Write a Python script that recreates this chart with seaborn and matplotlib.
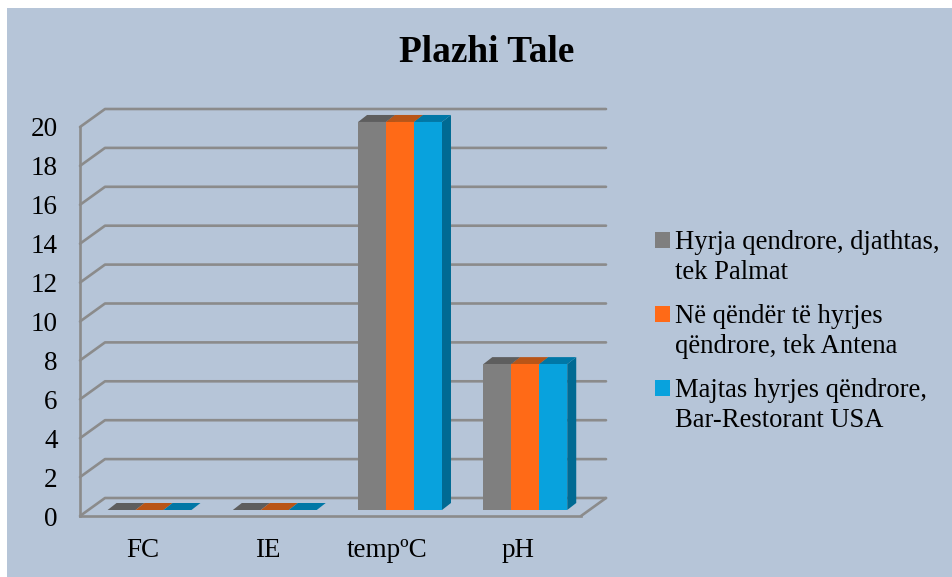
import pandas as pd
import matplotlib
matplotlib.use('Agg')
import matplotlib.pyplot as plt
import seaborn as sns
from matplotlib.patches import Polygon, Rectangle
from matplotlib.transforms import ScaledTranslation

# Data
categories = ['FC', 'IE', 'tempºC', 'pH']
series_names = ['Hyrja qendrore, djathtas,\ntek Palmat',
                'Në qëndër të hyrjes\nqëndrore, tek Antena',
                'Majtas hyrjes qëndrore,\nBar-Restorant USA']
entrance_right = [0, 0, 19.95, 7.5]
entrance_centre = [0, 0, 19.95, 7.5]
entrance_left = [0, 0, 19.95, 7.5]
y_ticks = [0, 2, 4, 6, 8, 10, 12, 14, 16, 18, 20]

front_colors = ['#7f7f7f', '#ff6a17', '#08a2dd']
top_colors = ['#5e5e5e', '#b95517', '#0077a6']
side_colors = ['#5e5e5e', '#b95517', '#006a93']
panel_color = '#b6c5d8'
grid_color = '#8b8b8b'

W, H = 953, 577
sns.set_theme(style='white')
plt.rcParams['font.family'] = ['Liberation Serif', 'DejaVu Serif']

df = pd.DataFrame({
    'category': categories * 3,
    'series': [s for s in series_names for _ in categories],
    'value': entrance_right + entrance_centre + entrance_left,
})

fig = plt.figure(figsize=(W / 100, H / 100), dpi=100, facecolor='white')
fig.add_artist(Rectangle((7 / W, 0), (W - 7) / W, (H - 8) / H, transform=fig.transFigure,
                         facecolor=panel_color, edgecolor='none', zorder=-5))

# axes = front plane of the 3D box
left, right, bottom, top = 80, 581, 516, 127
ax = fig.add_axes([left / W, 1 - bottom / H, (right - left) / W, (bottom - top) / H])
ax.patch.set_alpha(0)

sns.barplot(data=df, x='category', y='value', hue='series', hue_order=series_names,
            palette=front_colors, width=0.67, gap=0, saturation=1, ax=ax, legend=True,
            linewidth=0, zorder=3)
ax.set_xlim(-0.5, 3.5)
ax.set_ylim(0, 20)

# pixel sizes -> data units
px_x = 4 / (right - left)
px_y = 20 / (bottom - top)
wall_dx, wall_dy = 25 * px_x, 18 * px_y
bar_dx, bar_dy = 6.9 * px_x, 6 * px_y
depth_dx, depth_dy = 9 * px_x, 7 * px_y

# back wall grid lines and floor
x0, x1 = ax.get_xlim()
for v in y_ticks:
    ax.plot([x0, x0 + wall_dx, x1 + wall_dx], [v, v + wall_dy, v + wall_dy],
            color=grid_color, lw=1.9, clip_on=False, zorder=1, solid_capstyle='round')
ax.plot([x1, x1 + wall_dx], [0, wall_dy], color=grid_color, lw=1.9, clip_on=False, zorder=1)

# shift bars back a bit and add the top and side faces
bars = [b for c in ax.containers for b in c]
for i, b in enumerate(bars):
    k = i // len(categories)
    b.set_x(b.get_x() + bar_dx)
    b.set_y(bar_dy)
    b.set_clip_on(False)
    xa, xb = b.get_x(), b.get_x() + b.get_width()
    y_low, y_top = bar_dy, bar_dy + b.get_height()
    ax.add_patch(Polygon([(xa, y_top), (xb, y_top), (xb + depth_dx, y_top + depth_dy),
                          (xa + depth_dx, y_top + depth_dy)],
                         facecolor=top_colors[k], edgecolor='none', clip_on=False, zorder=2.5))
    ax.add_patch(Polygon([(xb, y_low), (xb + depth_dx, y_low + depth_dy),
                          (xb + depth_dx, y_top + depth_dy), (xb, y_top)],
                         facecolor=side_colors[k], edgecolor='none', clip_on=False, zorder=2))

for s in ['top', 'right']:
    ax.spines[s].set_visible(False)
for s in ['left', 'bottom']:
    ax.spines[s].set_color(grid_color)
    ax.spines[s].set_linewidth(1.9)
    ax.spines[s].set_zorder(1.5)

ax.set_xlabel('')
ax.set_ylabel('')
ax.set_yticks(y_ticks)
ax.tick_params(axis='y', length=0, pad=16, labelsize=19.5, labelcolor='black')
ax.tick_params(axis='x', length=0, pad=16, labelsize=19.5, labelcolor='black')

# temp label sits a bit left of its bar group in the original
temp_label = ax.get_xticklabels()[2]
temp_label.set_transform(temp_label.get_transform() + ScaledTranslation(-6 / 100, 0, fig.dpi_scale_trans))

handles, labels = ax.get_legend_handles_labels()
leg = ax.legend(handles, labels, loc='upper left',
                bbox_to_anchor=(655 / W, 1 - 230 / H), bbox_transform=fig.transFigure,
                frameon=False, fontsize=19.2, borderpad=0, borderaxespad=0,
                handlelength=0.55, handleheight=0.55, handletextpad=0.2, labelspacing=0.70)
for t in leg.get_texts():
    t.set_color('black')
    t.set_linespacing(1.28)
# square sits next to the first line of each entry
for h in leg.legend_handles:
    h.set_y(h.get_y() + 12.5)

fig.text(487 / W, 1 - 52 / H, 'Plazhi Tale', ha='center', va='center',
         fontsize=26.8, fontweight='bold', color='black')

fig.savefig('out.png', dpi=100, facecolor=fig.get_facecolor())
